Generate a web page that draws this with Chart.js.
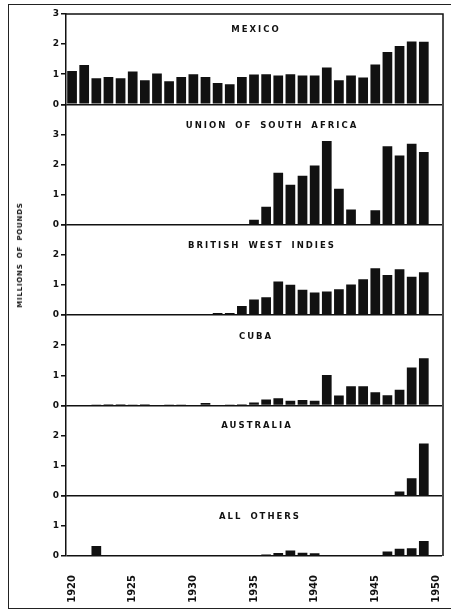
<!DOCTYPE html>
<html>
<head>
<meta charset="utf-8">
<script src="https://cdn.jsdelivr.net/npm/chart.js@4.4.0/dist/chart.umd.min.js"></script>
<style>
  body { margin: 0; background: #fff; }
  #quadro { position: relative; width: 451px; height: 612px; overflow: hidden; }
  #moldura { position: absolute; left: 8px; top: 4px; width: 460px; height: 603px;
    border-left: 1.5px solid #222; border-top: 1.5px solid #222; border-bottom: 1.5px solid #222; }
  canvas { position: absolute; left: 0; top: 0; }
  .titulo { position: absolute; transform: translate(-50%, -50%); white-space: nowrap;
    font: bold 8.5px "DejaVu Sans", sans-serif; letter-spacing: 2px; word-spacing: 3px; color: #111; }
  #eixoY { position: absolute; left: 20px; top: 255px; transform: translate(-50%, -50%) rotate(-90deg);
    white-space: nowrap; font: bold 7px "DejaVu Sans", sans-serif; letter-spacing: 0.8px; word-spacing: 2px; color: #111; }
</style>
</head>
<body>
<div id="quadro">
  <div id="moldura"></div>
  <canvas id="graficoPaineis" width="451" height="612"></canvas>
  <div class="titulo" style="left:256px;top:29px">MEXICO</div>
  <div class="titulo" style="left:272px;top:125px">UNION OF SOUTH AFRICA</div>
  <div class="titulo" style="left:262px;top:245px">BRITISH WEST INDIES</div>
  <div class="titulo" style="left:256px;top:336px">CUBA</div>
  <div class="titulo" style="left:257px;top:425px">AUSTRALIA</div>
  <div class="titulo" style="left:260px;top:516px">ALL OTHERS</div>
  <div id="eixoY">MILLIONS OF POUNDS</div>
</div>
<script>
const anos = ['1920','1921','1922','1923','1924','1925','1926','1927','1928','1929',
  '1930','1931','1932','1933','1934','1935','1936','1937','1938','1939',
  '1940','1941','1942','1943','1944','1945','1946','1947','1948','1949','1950'];

// milhões de libras, 1920-1949
const mexico = [1.11,1.31,0.87,0.91,0.87,1.09,0.80,1.02,0.77,0.91,
  1.00,0.91,0.71,0.67,0.91,0.99,1.00,0.96,1.00,0.96,
  0.96,1.22,0.80,0.96,0.89,1.32,1.74,1.94,2.09,2.08];
const sulAfrica = [0,0,0,0,0.02,0,0,0,0,0,
  0,0,0,0,0,0.17,0.60,1.73,1.33,1.63,
  1.97,2.78,1.20,0.51,0,0.48,2.61,2.30,2.69,2.42];
const antilhas = [0,0,0,0,0,0,0,0,0,0,
  0,0,0.07,0.07,0.30,0.52,0.59,1.12,1.01,0.84,
  0.75,0.78,0.86,1.02,1.19,1.56,1.33,1.52,1.27,1.42];
const cuba = [0,0.02,0.03,0.04,0.04,0.03,0.04,0.02,0.01,0.01,
  0.02,0.08,0.02,0.01,0.04,0.10,0.20,0.24,0.16,0.18,
  0.16,1.01,0.33,0.64,0.64,0.44,0.34,0.52,1.26,1.57];
const australia = [0,0,0,0,0,0,0,0,0,0,
  0,0,0,0,0,0,0,0,0,0,
  0,0,0,0,0,0,0,0.14,0.58,1.74];
const outros = [0,0,0.33,0,0,0,0,0,0,0,
  0,0,0,0,0,0.02,0.05,0.10,0.18,0.11,
  0.09,0.02,0,0,0,0.02,0.15,0.24,0.26,0.50];

// topo de cada painel (escala)
const maximos = [3, 4, 3, 3, 3, 2];
const series = [mexico, sulAfrica, antilhas, cuba, australia, outros];

const corTinta = '#111';

function eixoPainel(max, mostrarTopo) {
  return {
    type: 'linear',
    position: 'left',
    stack: 'paineis',
    stackWeight: max,
    min: 0,
    max: max,
    ticks: {
      stepSize: 1,
      color: corTinta,
      padding: 2,
      font: { family: 'DejaVu Sans', size: 9, weight: 'bold' },
      callback: v => (v === max && !mostrarTopo) ? '' : v
    },
    grid: {
      color: ctx => (ctx.tick && ctx.tick.value === 0) ? corTinta : 'rgba(0,0,0,0)',
      tickColor: corTinta,
      tickLength: 5,
      lineWidth: 1.5
    },
    border: { color: corTinta, width: 1.5 },
    afterFit: s => { s.width = 20; }
  };
}

const escalas = {
  x: {
    type: 'category',
    grid: { display: false, drawTicks: false },
    border: { display: false },
    ticks: {
      autoSkip: false,
      minRotation: 90,
      maxRotation: 90,
      padding: 19,
      color: corTinta,
      font: { family: 'DejaVu Sans', size: 10, weight: 'bold' },
      callback: (v, i) => Number(anos[i]) % 5 === 0 ? anos[i] : ''
    },
    afterFit: s => {
      s.height = 56;
      s.paddingLeft = 0;
      s.paddingRight = 0;
    }
  }
};
// ordem de baixo para cima
const ids = [];
for (let i = series.length - 1; i >= 0; i--) {
  const id = 'y' + i;
  ids[i] = id;
  escalas[id] = eixoPainel(maximos[i], i === 0);
}

const molduraPlot = {
  id: 'molduraPlot',
  afterDraw(chart) {
    const { ctx, chartArea } = chart;
    ctx.save();
    ctx.strokeStyle = corTinta;
    ctx.lineWidth = 1.5;
    ctx.beginPath();
    ctx.moveTo(chartArea.left, chartArea.top);
    ctx.lineTo(chartArea.right + 1, chartArea.top);
    ctx.lineTo(chartArea.right + 1, chartArea.bottom);
    ctx.stroke();
    ctx.restore();
  }
};

const ctx = document.getElementById('graficoPaineis').getContext('2d');
new Chart(ctx, {
  type: 'bar',
  data: {
    labels: anos,
    datasets: series.map((dados, i) => ({
      data: dados,
      yAxisID: ids[i],
      grouped: false,
      backgroundColor: corTinta,
      barPercentage: 0.8,
      categoryPercentage: 1
    }))
  },
  options: {
    responsive: false,
    animation: false,
    devicePixelRatio: 1,
    layout: { padding: { left: 46, right: 9, top: 14, bottom: 0 } },
    plugins: { legend: { display: false }, tooltip: { enabled: false } },
    scales: escalas
  },
  plugins: [molduraPlot]
});
</script>
</body>
</html>
